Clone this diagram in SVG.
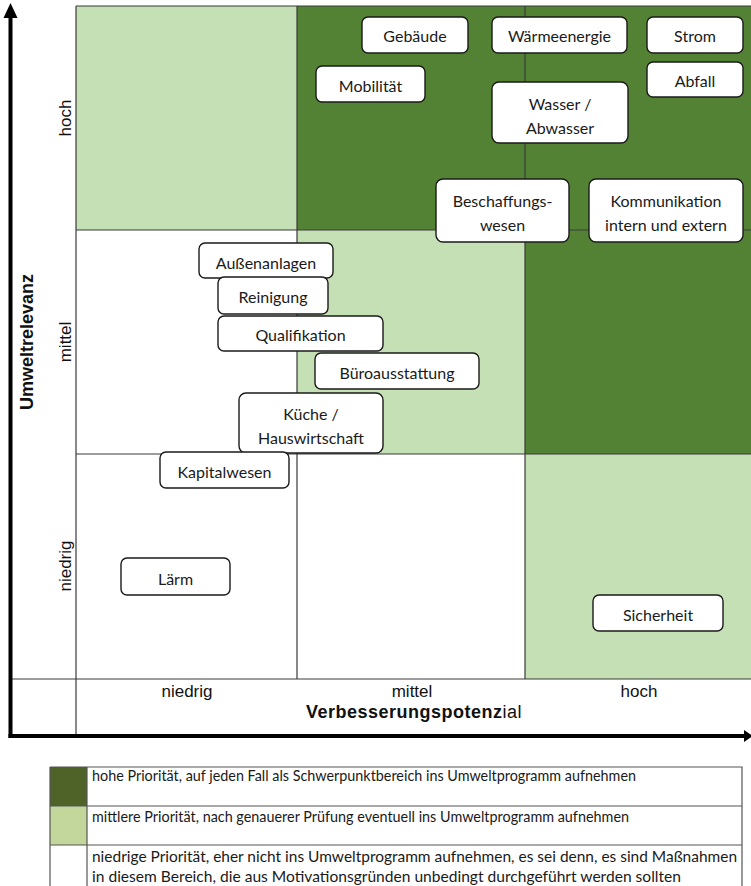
<svg xmlns="http://www.w3.org/2000/svg" width="751" height="886" viewBox="0 0 751 886">
<defs>
<style>
.dk{fill:#548235}
.lt{fill:#C5E0B4}
.wh{fill:#FFFFFF}
.gl{stroke:#3a3a3a;stroke-width:1.2;fill:none}
.ax{stroke:#000;stroke-width:4;fill:none}
.box{fill:#FFFFFF;stroke:#1a1a1a;stroke-width:1.4}
.nt{font-family:Lato,"Open Sans","Noto Sans",sans-serif;font-size:16px;fill:#1a1a1a;text-anchor:middle;dominant-baseline:central}
.al{font-family:"Liberation Sans",Arial,sans-serif;font-size:17px;fill:#111;text-anchor:middle}
.ab{font-family:"Liberation Sans",Arial,sans-serif;font-size:18px;font-weight:bold;fill:#111;text-anchor:middle}
.lg{font-family:Lato,"Open Sans",sans-serif;font-size:15px;fill:#1a1a1a}
.lb{stroke:#555;stroke-width:1.2;fill:none}
</style>
</defs>
<rect x="0" y="0" width="751" height="886" fill="#FFFFFF"/>
<g id="matrix">
<rect class="lt" x="76" y="6" width="221" height="224"/>
<rect class="dk" x="297" y="6" width="454" height="224"/>
<rect class="wh" x="76" y="230" width="221" height="224"/>
<rect class="lt" x="297" y="230" width="228" height="224"/>
<rect class="dk" x="525" y="230" width="226" height="224"/>
<rect class="wh" x="76" y="454" width="449" height="225"/>
<rect class="lt" x="525" y="454" width="226" height="225"/>
<path class="gl" d="M76 6H751M76 230H751M76 454H751M10 679H751M76 6V736M297 6V679M525 6V679"/>
</g>
<g id="axes">
<path class="ax" d="M10.5 738V16"/>
<polygon points="10.5,3 3.5,18 17.5,18" fill="#000"/>
<path class="ax" d="M8.5 736H745"/>
<polygon points="753,736 744,730 744,742" fill="#000"/>
<text class="al" transform="translate(71,118) rotate(-90)">hoch</text>
<text class="al" transform="translate(71,342) rotate(-90)">mittel</text>
<text class="al" transform="translate(71,566) rotate(-90)">niedrig</text>
<text class="ab" transform="translate(33,342) rotate(-90)" font-size="19">Umweltrelevanz</text>
<text class="al" x="187" y="697">niedrig</text>
<text class="al" x="412" y="697">mittel</text>
<text class="al" x="639" y="697">hoch</text>
<text class="ab" x="414" y="718" letter-spacing="0.5">Verbesserungspotenz<tspan font-weight="normal">ial</tspan></text>
</g>
<g id="connectors"></g>
<g id="n-gebaeude"><rect class="box" x="362" y="17" width="106" height="36" rx="6"/><text class="nt" x="415" y="35">Gebäude</text></g>
<g id="n-waermeenergie"><rect class="box" x="492" y="17" width="135" height="36" rx="6"/><text class="nt" x="559.5" y="35">Wärmeenergie</text></g>
<g id="n-strom"><rect class="box" x="647" y="17" width="96" height="36" rx="6"/><text class="nt" x="695" y="35">Strom</text></g>
<g id="n-mobilitaet"><rect class="box" x="316" y="66" width="109" height="36" rx="6"/><text class="nt" x="370.5" y="85">Mobilität</text></g>
<g id="n-abfall"><rect class="box" x="647" y="62" width="96" height="35" rx="6"/><text class="nt" x="695" y="80">Abfall</text></g>
<g id="n-wasser"><rect class="box" x="492" y="82" width="136" height="61" rx="7"/><text class="nt" x="560" y="103">Wasser /</text><text class="nt" x="560" y="127">Abwasser</text></g>
<g id="n-beschaffung"><rect class="box" x="436" y="179" width="133" height="63" rx="7"/><text class="nt" x="502.5" y="200">Beschaffungs-</text><text class="nt" x="502.5" y="224">wesen</text></g>
<g id="n-kommunikation"><rect class="box" x="589" y="179" width="154" height="63" rx="7"/><text class="nt" x="666" y="200">Kommunikation</text><text class="nt" x="666" y="224">intern und extern</text></g>
<g id="n-aussenanlagen"><rect class="box" x="199" y="243" width="134" height="35" rx="6"/><text class="nt" x="266" y="262">Außenanlagen</text></g>
<g id="n-reinigung"><rect class="box" x="218" y="277" width="110" height="37" rx="6"/><text class="nt" x="273" y="296">Reinigung</text></g>
<g id="n-qualifikation"><rect class="box" x="218" y="316" width="165" height="35" rx="6"/><text class="nt" x="300.5" y="334">Qualifikation</text></g>
<g id="n-bueroausstattung"><rect class="box" x="315" y="353" width="164" height="36" rx="6"/><text class="nt" x="397" y="372">Büroausstattung</text></g>
<g id="n-kueche"><rect class="box" x="239" y="393" width="144" height="60" rx="7"/><text class="nt" x="311" y="413">Küche /</text><text class="nt" x="311" y="437">Hauswirtschaft</text></g>
<g id="n-kapitalwesen"><rect class="box" x="160" y="452" width="129" height="36" rx="6"/><text class="nt" x="224.5" y="471">Kapitalwesen</text></g>
<g id="n-laerm"><rect class="box" x="121" y="558" width="109" height="37" rx="6"/><text class="nt" x="175.5" y="578">Lärm</text></g>
<g id="n-sicherheit"><rect class="box" x="593" y="595" width="130" height="36" rx="6"/><text class="nt" x="658" y="614">Sicherheit</text></g>
<g id="legend">
<rect x="50" y="767" width="37" height="39" fill="#4F6228"/>
<rect x="50" y="806" width="37" height="39" fill="#C3D69B"/>
<path class="lb" d="M50 767H742V892M50 806H742M50 845H742M87 767V892M50 767V892"/>
<text class="lg" x="92" y="781" textLength="544" lengthAdjust="spacingAndGlyphs">hohe Priorität, auf jeden Fall als Schwerpunktbereich ins Umweltprogramm aufnehmen</text>
<text class="lg" x="92" y="822" textLength="537" lengthAdjust="spacingAndGlyphs">mittlere Priorität, nach genauerer Prüfung eventuell ins Umweltprogramm aufnehmen</text>
<text class="lg" x="92" y="862" textLength="645" lengthAdjust="spacingAndGlyphs">niedrige Priorität, eher nicht ins Umweltprogramm aufnehmen, es sei denn, es sind Maßnahmen</text>
<text class="lg" x="92" y="882" textLength="589" lengthAdjust="spacingAndGlyphs">in diesem Bereich, die aus Motivationsgründen unbedingt durchgeführt werden sollten</text>
</g>
</svg>
